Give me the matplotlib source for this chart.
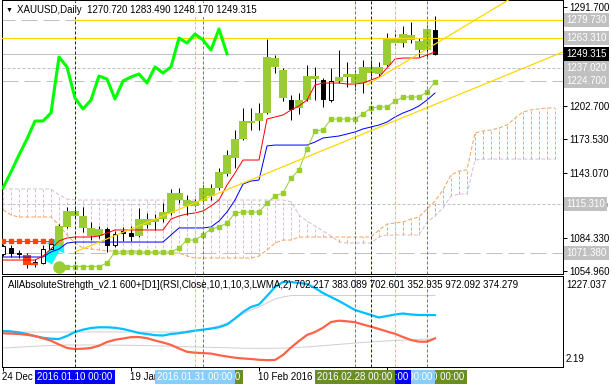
import matplotlib
matplotlib.use("Agg")
import matplotlib.pyplot as plt
from matplotlib.patches import Rectangle
from matplotlib.transforms import blended_transform_factory as blend

plt.rcParams['font.family'] = ['Liberation Sans', 'DejaVu Sans']

# daily XAUUSD bars, bar 0 = 24 Dec 2015, last bar = 11 Mar 2016
opens = [1070.2, 1075.6, 1070.6, 1069.3, 1062.6, 1062.1, 1074.7, 1077.4, 1094.4, 1108.7,
         1104.2, 1093.5, 1086.3, 1092.6, 1078.2, 1091.2, 1089.0, 1086.3, 1096.1, 1098.8,
         1101.5, 1106.9, 1124.8, 1118.5, 1113.2, 1117.6, 1122.1, 1129.3, 1141.8, 1156.1,
         1173.1, 1187.4, 1189.2, 1196.4, 1245.6, 1234.9, 1208.0, 1200.9, 1208.0, 1229.5,
         1225.9, 1208.0, 1225.0, 1228.6, 1231.3, 1223.2, 1237.6, 1231.3, 1239.3, 1263.5,
         1259.0, 1266.2, 1260.8, 1252.8, 1270.72]
highs = [1079.1, 1078.2, 1073.8, 1071.1, 1065.7, 1078.2, 1084.5, 1097.0, 1112.3, 1110.5,
         1112.3, 1098.8, 1095.3, 1094.4, 1090.8, 1094.4, 1095.3, 1111.4, 1106.9, 1106.0,
         1115.8, 1128.4, 1129.3, 1123.0, 1122.1, 1131.9, 1132.8, 1147.2, 1163.3, 1181.2,
         1200.9, 1200.9, 1205.3, 1262.6, 1248.3, 1236.7, 1212.5, 1214.3, 1239.3, 1237.6,
         1227.7, 1236.7, 1252.8, 1242.0, 1234.9, 1243.8, 1243.8, 1242.0, 1268.0, 1270.7,
         1274.3, 1277.8, 1263.5, 1275.1, 1283.49]
lows = [1068.4, 1067.5, 1066.6, 1057.7, 1058.6, 1061.2, 1072.0, 1073.8, 1093.5, 1102.4,
        1089.9, 1082.7, 1084.5, 1072.0, 1076.5, 1081.8, 1081.8, 1085.4, 1093.5, 1091.7,
        1098.8, 1105.1, 1115.8, 1105.1, 1109.6, 1115.8, 1118.5, 1127.5, 1140.0, 1147.2,
        1172.2, 1181.2, 1181.2, 1195.5, 1232.2, 1207.1, 1190.1, 1195.5, 1207.1, 1208.0,
        1201.8, 1206.2, 1223.2, 1219.7, 1217.0, 1214.3, 1229.5, 1228.6, 1238.5, 1257.2,
        1255.5, 1259.0, 1246.5, 1245.6, 1248.17]
closes = [1077.4, 1071.1, 1070.2, 1063.0, 1061.7, 1074.7, 1079.1, 1095.3, 1108.7, 1104.2,
          1093.5, 1086.3, 1092.6, 1078.2, 1088.1, 1089.4, 1086.3, 1101.5, 1101.5, 1101.5,
          1107.8, 1124.8, 1118.5, 1113.2, 1117.6, 1129.3, 1129.3, 1143.6, 1158.8, 1173.1,
          1189.2, 1189.2, 1196.4, 1246.5, 1237.6, 1209.8, 1200.0, 1208.0, 1229.5, 1226.8,
          1208.9, 1225.0, 1228.6, 1231.3, 1223.2, 1237.6, 1232.2, 1237.6, 1263.5, 1259.0,
          1267.1, 1261.7, 1252.8, 1271.6, 1249.315]
# bars painted as wide yellow-green bodies by the overlay indicator
painted = [7, 8, 9, 10, 11, 12, 17, 18, 19, 20, 21, 22, 23, 24, 25, 26, 27, 28, 29, 30,
           31, 32, 33, 34, 35, 37, 38, 39, 42, 43, 44, 45, 46, 47, 48, 49, 50, 51, 52, 53]

# Ichimoku
tenkan = [1064.8, 1064.8, 1064.8, 1064.8, 1064.8, 1068.4, 1074.7, 1081.8, 1084.5, 1085.4,
          1085.4, 1085.4, 1086.3, 1089.0, 1091.7, 1091.7, 1091.7, 1091.7, 1091.7, 1091.7,
          1091.7, 1101.5, 1104.2, 1106.0, 1106.9, 1108.7, 1113.2, 1118.5, 1131.9, 1142.7,
          1154.3, 1154.3, 1154.3, 1191.0, 1192.8, 1194.6, 1199.1, 1202.7, 1208.0, 1221.4,
          1223.2, 1223.2, 1223.2, 1222.3, 1222.3, 1223.2, 1225.9, 1228.6, 1236.7, 1244.7,
          1245.6, 1245.6, 1245.6, 1248.3, 1251.0]
kijun = [1067.5, 1067.5, 1067.5, 1067.5, 1067.5, 1067.5, 1072.0, 1074.7, 1080.0, 1080.9,
         1080.9, 1080.9, 1080.9, 1080.9, 1080.9, 1080.9, 1080.9, 1080.9, 1080.9, 1080.9,
         1080.9, 1087.2, 1093.5, 1093.5, 1093.5, 1093.5, 1094.4, 1099.7, 1107.8, 1118.5,
         1132.8, 1135.5, 1136.4, 1166.9, 1167.7, 1167.7, 1167.7, 1167.7, 1167.7, 1170.4,
         1174.0, 1174.9, 1175.8, 1177.6, 1179.4, 1182.1, 1183.9, 1185.6, 1188.3, 1192.8,
         1196.4, 1199.1, 1202.7, 1208.0, 1214.3]
chikou_shift = 26
span_a = [1109.6, 1105.1, 1103.3, 1103.3, 1103.3, 1103.3, 1103.3, 1096.1, 1087.2, 1080.0,
          1075.6, 1074.7, 1073.8, 1072.9, 1072.9, 1072.9, 1072.9, 1072.9, 1071.1, 1071.1,
          1071.1, 1071.1, 1071.1, 1068.4, 1066.6, 1066.6, 1066.6, 1066.6, 1066.6, 1066.6,
          1066.6, 1066.6, 1068.4, 1073.8, 1080.0, 1082.7, 1082.7, 1085.4, 1085.4, 1085.4,
          1085.4, 1085.4, 1085.4, 1085.4, 1085.4, 1085.4, 1085.4, 1091.7, 1097.0, 1097.9,
          1098.8, 1101.5, 1103.3, 1110.5, 1117.6, 1127.5, 1140.9, 1144.5, 1145.4, 1178.5,
          1180.3, 1181.2, 1183.0, 1185.6, 1191.9, 1197.3, 1199.1, 1200.0, 1200.9, 1200.9]
span_b = [1128.4, 1128.4, 1128.4, 1128.4, 1128.4, 1128.4, 1128.4, 1123.0, 1119.4, 1118.5,
          1118.5, 1118.5, 1118.5, 1118.5, 1118.5, 1118.5, 1118.5, 1118.5, 1118.5, 1118.5,
          1118.5, 1118.5, 1118.5, 1118.5, 1118.5, 1118.5, 1118.5, 1118.5, 1118.5, 1118.5,
          1118.5, 1118.5, 1118.5, 1118.5, 1118.5, 1118.5, 1117.0, 1105.1, 1099.7, 1095.3,
          1090.8, 1086.3, 1080.9, 1080.0, 1080.0, 1080.0, 1080.0, 1085.4, 1087.2, 1087.2,
          1087.2, 1087.2, 1087.2, 1098.8, 1104.2, 1111.4, 1122.1, 1123.9, 1123.9, 1154.3,
          1155.2, 1155.2, 1155.2, 1155.2, 1155.2, 1155.2, 1155.2, 1155.2, 1155.2, 1155.2]

# yellow-green dotted trailing line (starts at bar 7)
trail_start = 7
trail = [1059.0, 1059.0, 1059.0, 1059.0, 1059.0, 1059.0, 1062.1, 1072.0, 1072.0, 1072.0,
         1072.0, 1072.0, 1072.0, 1072.0, 1072.0, 1075.6, 1082.7, 1082.7, 1087.2, 1092.6,
         1094.4, 1097.9, 1106.9, 1107.8, 1107.8, 1107.8, 1115.8, 1122.1, 1124.8, 1138.2,
         1145.4, 1164.2, 1180.3, 1181.2, 1191.0, 1191.0, 1191.0, 1191.0, 1195.5, 1200.9,
         1201.8, 1201.8, 1207.1, 1210.7, 1210.7, 1210.7, 1215.2, 1224.1]
# orange-red stop line, bars 0..6
stop_line = [1081.8, 1081.8, 1081.8, 1081.8, 1081.8, 1081.8, 1081.8]
block_bar = 3
block_prices = [1060.3, 1069.3]
arrow_bars = [5.4, 7.7]
arrow_prices = [1061.0, 1089.0]

# objects
trend_a = ([9, 70], [1072.0, 1251.0])
trend_b = ([45.5, 66], [1221.5, 1309.7])
gold_level_split = 9
price_ticks = [1054.960, 1084.330, 1113.700, 1143.070, 1173.530, 1202.700, 1232.020,
               1262.030, 1291.700]
box_levels = [1279.730, 1263.310, 1237.020, 1224.700, 1115.310, 1071.380]
bid = 1249.315

vline_bars = [9, 24, 25, 44, 46, 49, 53]
vline_colors = ['#0000FF', '#87CEFA', '#6B8E23', '#6B8E23', '#0000FF', '#87CEFA', '#6B8E23']
vline_text = ['2016.01.10 00:00', '2016.01.31 00:00', '2016.02.07 00:00', '2016.02.28 00:00',
              '2016.03.01 00:00', '2016.03.06 00:00', '2016.03.10 00:00']
time_bars = [0, 16, 32, 48]
time_text = ['24 Dec', '19 Jan', '10 Feb 2016', '3 Mar']

# AllAbsoluteStrength subwindow
bulls = [484.0, 478.5, 463.4, 442.7, 412.4, 390.4, 378.1, 373.9, 415.2, 470.2,
         501.9, 525.3, 534.9, 534.9, 528.0, 511.6, 485.4, 456.5, 442.7, 426.2,
         422.0, 442.7, 453.7, 470.2, 488.1, 501.9, 517.0, 536.3, 573.4, 656.0,
         745.4, 814.2, 848.6, 965.6, 1089.4, 1158.2, 1158.2, 1144.5, 1130.7, 1075.7,
         1006.9, 951.8, 896.8, 834.9, 773.0, 738.6, 704.2, 669.7, 690.4, 711.0,
         724.8, 711.0, 704.2, 704.2, 702.2]
bears = [452.3, 448.2, 442.7, 431.7, 415.2, 383.6, 350.5, 298.2, 250.1, 236.3,
         240.4, 250.1, 281.7, 332.6, 362.9, 380.8, 398.7, 401.4, 385.0, 353.3,
         325.8, 292.7, 243.2, 197.8, 185.4, 179.9, 173.0, 151.0, 133.1, 116.6,
         105.6, 98.7, 87.7, 82.5, 85.0, 153.8, 257.0, 346.4, 429.0, 470.2,
         529.4, 607.8, 625.7, 617.5, 605.1, 573.4, 543.2, 511.6, 477.1, 445.5,
         401.4, 360.2, 336.7, 336.7, 383.1]
lvl_up = [470.2, 470.2, 470.2, 470.2, 470.2, 470.2, 470.2, 470.2, 470.2, 470.2,
          470.2, 470.2, 470.2, 470.2, 470.2, 470.2, 470.2, 470.2, 470.2, 470.2,
          470.2, 470.2, 470.2, 484.0, 497.8, 511.6, 525.3, 552.8, 594.1, 649.1,
          718.0, 773.0, 814.2, 869.3, 924.3, 951.8, 972.1, 972.1, 972.1, 972.1,
          972.1, 972.1, 972.1, 972.1, 972.1, 972.1, 972.1, 972.1, 972.1, 972.1,
          972.1, 972.1, 972.1, 972.1, 972.1]
lvl_dn = [250.1, 255, 262, 268, 274, 280, 285, 289, 291, 291,
          291, 291, 291, 290, 289, 288, 287, 285, 283, 280,
          277, 274, 271, 268, 265, 262, 259, 256, 253, 250,
          248, 246, 245, 245, 246, 248, 252, 258, 265, 273,
          282, 291, 300, 309, 318, 326, 334, 341, 347, 353,
          358, 363, 367, 371, 374.3]
sub_max, sub_min = 1227.037, 2.19

W, H = 611, 387
fig = plt.figure(figsize=(W / 100, H / 100), dpi=100)


def fx(px):
    return px / W


def fy(py):
    return 1 - py / H


ax = fig.add_axes([fx(2), fy(274), fx(563) - fx(2), fy(0) - fy(274)])
sub = fig.add_axes([fx(2), fy(367), fx(563) - fx(2), fy(276) - fy(367)])

LW = 0.72  # one pixel
SAND, THISTLE, YG = '#F4A460', '#D8BFD8', '#9ACD32'

# cloud
cloud_x = list(range(len(span_a)))
for i in cloud_x:
    a, b = span_a[i], span_b[i]
    ax.plot([i, i], [min(a, b), max(a, b)], color=SAND if a > b else THISTLE,
            lw=LW, ls=(0, (3, 2)), zorder=1)
ax.plot(cloud_x, span_b, color=THISTLE, lw=LW, ls=(0, (4, 2)), zorder=1.1)
ax.plot(cloud_x, span_a, color=SAND, lw=LW, ls=(0, (4, 2)), zorder=1.2)

# horizontal levels
ax.hlines(box_levels[0], -1, gold_level_split, color='#C0C0C0', lw=LW, ls=(0, (16, 6)), zorder=2)
ax.hlines(box_levels[0], gold_level_split, 80, color='#FFD700', lw=0.9, zorder=6)
ax.axhline(box_levels[1], color='#FFD700', lw=0.9, zorder=6)
ax.axhline(bid, color='#C0C0C0', lw=LW, zorder=2)
for lv in (box_levels[2], box_levels[4]):
    ax.axhline(lv, color='#C0C0C0', lw=LW, ls=(0, (3, 2)), zorder=2)
for lv in (box_levels[3], box_levels[5]):
    ax.axhline(lv, color='#C0C0C0', lw=LW, ls=(0, (16, 6)), zorder=2)

# candles
for i in range(len(closes)):
    o, h, l, c = opens[i], highs[i], lows[i], closes[i]
    ax.vlines(i, l, h, color='black', lw=LW, zorder=3)
    lo, hi = min(o, c), max(o, c)
    if hi - lo < 0.9:
        hi = lo + 0.9
    if i in painted:
        ax.add_patch(Rectangle((i - 0.5, lo), 1.0, hi - lo, fc=YG, ec='none', zorder=4))
    else:
        ax.add_patch(Rectangle((i - 0.3, lo), 0.6, hi - lo, fc='white' if c > o else 'black',
                               ec='black', lw=LW, zorder=4))

# signal markers
ax.add_patch(Rectangle((block_bar - 0.5, block_prices[0]), 1.0, block_prices[1] - block_prices[0],
                       fc='#FF4500', ec='none', zorder=4.5))
ax.hlines(block_prices[0] + 1.0, block_bar + 0.5, block_bar + 1.4, color='#FF4500', lw=1.6, zorder=4.5)
ax.annotate('', xy=(arrow_bars[1], arrow_prices[1]), xytext=(arrow_bars[0], arrow_prices[0]),
            arrowprops=dict(arrowstyle='simple,head_width=1.5,head_length=1.1,tail_width=0.7',
                            color='#00FFFF', lw=0), zorder=3.5)
ax.plot(range(len(stop_line)), stop_line, color='#FF4500', lw=LW, marker='s', ms=2.6, zorder=5)

# ichimoku lines
bars = list(range(len(closes)))
ax.plot(bars, kijun, color='#0000FF', lw=LW, zorder=5)
ax.plot(bars, tenkan, color='#FF0000', lw=LW, zorder=5)
tb = list(range(trail_start, trail_start + len(trail)))
ax.plot(tb, trail, color=YG, lw=LW, marker='s', ms=2.3, zorder=5)
ax.plot(tb[0], trail[0], 'o', color=YG, ms=8, zorder=5)
ax.plot(range(len(closes) - chikou_shift), closes[chikou_shift:], color='#00FF00', lw=2.2, zorder=7)

# trend lines
ax.plot(*trend_a, color='#FFD700', lw=0.9, zorder=6)
ax.plot(*trend_b, color='#FFD700', lw=0.9, zorder=6)

# vertical lines in both windows
for b, c in zip(vline_bars, vline_colors):
    for a in (ax, sub):
        a.axvline(b, color=c, lw=LW, ls=(0, (3, 2)), zorder=6)

ax.set_xlim(-0.125, 70)
ax.set_ylim(1052.29, 1297.52)
ax.set_xticks([])
ax.yaxis.tick_right()
ax.set_yticks(price_ticks, labels=[f'{p:.3f}' for p in price_ticks])
ax.tick_params(axis='y', length=3, width=LW, pad=1.2, labelsize=7)

tr = blend(ax.transAxes, ax.transData)
for lv in box_levels:
    ax.text(1.006, lv, f'{lv:.3f}', transform=tr, ha='left', va='center', fontsize=7,
            color='white', clip_on=False, zorder=10,
            bbox=dict(boxstyle='square,pad=0.2', fc='#C0C0C0', ec='none'))
ax.text(1.006, bid, f'{bid:.3f}', transform=tr, ha='left', va='center', fontsize=7,
        color='white', clip_on=False, zorder=11,
        bbox=dict(boxstyle='square,pad=0.2', fc='black', ec='none'))

# subwindow
sub.plot(bars, lvl_up, color='#D0D0D0', lw=LW)
sub.plot(bars, lvl_dn, color='#D0D0D0', lw=LW)
sub.plot(bars, bulls, color='#00BFFF', lw=1.6)
sub.plot(bars, bears, color='#FF6347', lw=1.6)
sub.set_xlim(-0.125, 70)
sub.set_ylim(-11.4, 1240.8)
sub.set_yticks([])
sub.set_xticks(time_bars, labels=[])
sub.tick_params(axis='x', length=3, width=LW)

for a in (ax, sub):
    for s in a.spines.values():
        s.set_linewidth(LW)

fig.text(fx(566), fy(285), f'{sub_max:.3f}', fontsize=7, va='center', ha='left')
fig.text(fx(566), fy(359), f'{sub_min:.2f}', fontsize=7, va='center', ha='left')
fig.text(fx(8), fy(285), 'AllAbsoluteStrength_v2.1 600+[D1](RSI,Close,10,1,10,3,LWMA,2) '
         '702.217 383.089 702.601 352.935 972.092 374.279', fontsize=7, va='center')

# time axis; vline labels overlap like the terminal draws them (left ones on top)
tt = blend(sub.transData, fig.transFigure)
for b, t in zip(time_bars, time_text):
    sub.text(b - 0.1, fy(377), t, transform=tt, fontsize=7, ha='left', va='center', clip_on=False)
n = len(vline_bars)
for k, (b, c, t) in enumerate(zip(vline_bars, vline_colors, vline_text)):
    sub.text(b, fy(377), t, transform=tt, fontsize=7, ha='center', va='center', color='white',
             clip_on=False, zorder=20 + n - k,
             bbox=dict(boxstyle='square,pad=0.2', fc=c, ec='none'))

# chart title
fig.text(fx(6), fy(10), '▼', fontsize=5, va='center')
fig.text(fx(17), fy(10), 'XAUUSD,Daily  1270.720 1283.490 1248.170 1249.315', fontsize=7,
         va='center', bbox=dict(boxstyle='square,pad=0.2', fc='white', ec='none'))

fig.savefig('out.png', dpi=100)
